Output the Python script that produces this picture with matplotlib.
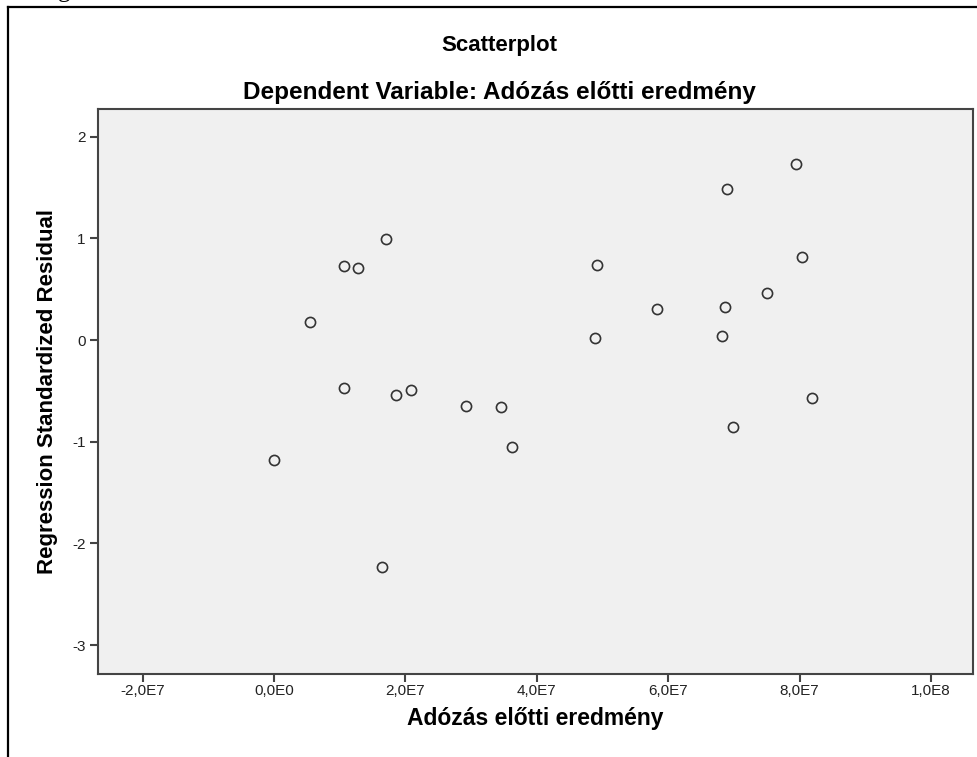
import matplotlib
matplotlib.use("Agg")
import matplotlib.pyplot as plt
from matplotlib.lines import Line2D

# Pre-tax result (x) and regression standardized residual (y) per case
pretax_result = [
    -0.006e7, 0.541e7, 1.070e7, 1.281e7, 1.058e7, 1.707e7, 1.859e7, 2.092e7,
    1.650e7, 2.918e7, 3.454e7, 3.626e7, 4.909e7, 4.883e7, 5.830e7, 6.889e7,
    6.863e7, 6.813e7, 6.980e7, 7.501e7, 7.942e7, 8.033e7, 8.185e7,
]
std_residual = [
    -1.177, 0.174, 0.728, 0.711, -0.469, 0.993, -0.544, -0.495,
    -2.235, -0.646, -0.659, -1.052, 0.734, 0.023, 0.308, 1.488,
    0.324, 0.042, -0.852, 0.462, 1.731, 0.813, -0.573,
]

x_ticks = [-2e7, 0, 2e7, 4e7, 6e7, 8e7, 1e8]
x_tick_labels = ["-2,0E7", "0,0E0", "2,0E7", "4,0E7", "6,0E7", "8,0E7", "1,0E8"]
y_ticks = [-3, -2, -1, 0, 1, 2]
y_tick_labels = ["-3", "-2", "-1", "0", "1", "2"]

title = "Scatterplot"
subtitle = "Dependent Variable: Adózás előtti eredmény"
x_label = "Adózás előtti eredmény"
y_label = "Regression Standardized Residual"

plt.rcParams["font.family"] = ["Liberation Sans", "DejaVu Sans"]

W, H = 977, 757
fig = plt.figure(figsize=(W / 100, H / 100), dpi=100, facecolor="white")

ax = fig.add_axes([98 / W, 1 - 674 / H, 875 / W, (674 - 109) / H])
ax.set_facecolor("#f0f0f0")

ax.plot(pretax_result, std_residual, linestyle="none", marker="o",
        markersize=7.3, markerfacecolor="none", markeredgecolor="#333333",
        markeredgewidth=1.2)

ax.set_xlim(-2.68e7, 1.064e8)
ax.set_ylim(-3.284, 2.272)

ax.set_xticks(x_ticks)
ax.set_xticklabels(x_tick_labels)
ax.set_yticks(y_ticks)
ax.set_yticklabels(y_tick_labels)

ax.tick_params(axis="both", direction="out", length=6, width=1.5,
               color="#444444", labelsize=11, labelcolor="#222222", pad=3)
ax.tick_params(axis="x", pad=1)

for side in ["left", "right", "top", "bottom"]:
    ax.spines[side].set_color("#444444")
    ax.spines[side].set_linewidth(1.5)

ax.set_xlabel(x_label, fontsize=16.5, fontweight="bold", labelpad=7)
ax.set_ylabel(y_label, fontsize=16, fontweight="bold", labelpad=10)

cx = 499.5 / W
fig.text(cx, 1 - 45 / H, title, ha="center", va="center",
         fontsize=16, fontweight="bold")
fig.text(cx, 1 - 92 / H, subtitle, ha="center", va="center",
         fontsize=17.5, fontweight="bold")

# Outer frame around the figure (left and top edges)
fig.add_artist(Line2D([8 / W, 8 / W], [0, 1 - 7 / H], transform=fig.transFigure,
                      color="black", linewidth=1.6))
fig.add_artist(Line2D([8 / W, 1], [1 - 7 / H, 1 - 7 / H], transform=fig.transFigure,
                      color="black", linewidth=1.6))

# Descender of the caption line above the frame
fig.text(64 / W, 1 + 3 / H, "g", ha="center", va="baseline", fontsize=18,
         family=["Liberation Serif", "DejaVu Serif"])

fig.savefig("out.png", dpi=100, facecolor="white")
